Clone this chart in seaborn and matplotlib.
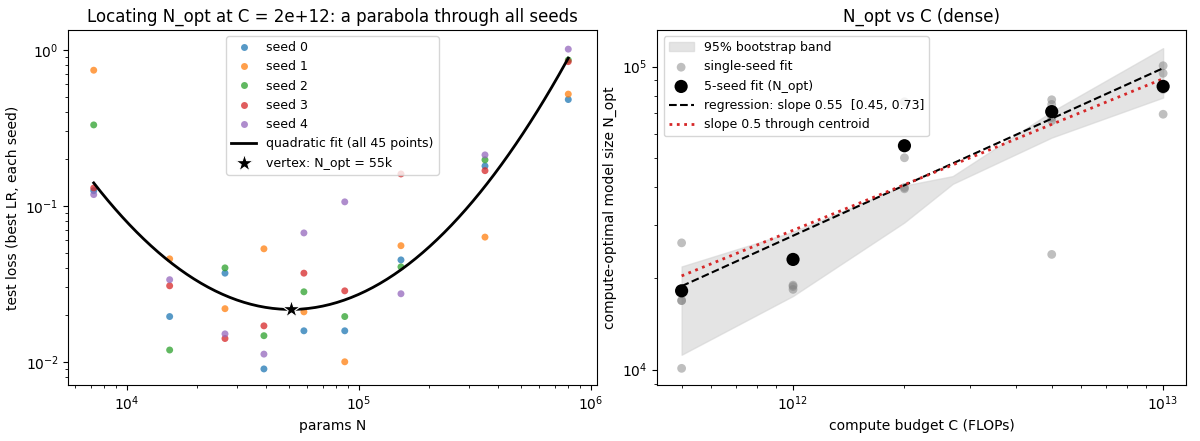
import numpy as np
import pandas as pd
import seaborn as sns
import matplotlib.pyplot as plt

plt.rcParams['font.family'] = ['DejaVu Sans']

# === Left panel data: loss per seed at C = 2e12 ===
params_n = [7.2e3, 15.3e3, 26.5e3, 39e3, 58e3, 87e3, 152e3, 350e3, 800e3]
loss_seed0 = [0.125, 0.0195, 0.037, 0.009, 0.0158, 0.0158, 0.045, 0.18, 0.48]
loss_seed1 = [0.74, 0.0457, 0.0219, 0.053, 0.0209, 0.010, 0.0555, 0.063, 0.52]
loss_seed2 = [0.33, 0.0119, 0.040, 0.0147, 0.0281, 0.0195, 0.0406, 0.197, 0.86]
loss_seed3 = [0.13, 0.0307, 0.0141, 0.017, 0.037, 0.0285, 0.160, 0.168, 0.84]
loss_seed4 = [0.118, 0.0336, 0.0151, 0.0112, 0.067, 0.106, 0.0273, 0.212, 1.01]

# === Right panel data ===
compute_c = [5e11, 1e12, 2e12, 5e12, 1e13]
n_opt_5seed = [18.2e3, 23.1e3, 54.8e3, 71e3, 86e3]
single_seed = [
    [26.2e3, 18.2e3, 16.9e3, 16.9e3, 10.1e3],
    [23.1e3, 19.0e3, 18.8e3, 18.4e3, 23.1e3],
    [76.5e3, 50e3, 39.9e3, 39.5e3, 54.8e3],
    [77.7e3, 75e3, 67.9e3, 66.3e3, 24e3],
    [100.6e3, 95e3, 84e3, 69.6e3, 85e3],
]
band_c = [5e11, 1e12, 2e12, 2.7e12, 5e12, 1e13]
band_lo = [11.2e3, 17.5e3, 30.6e3, 41e3, 58.3e3, 79e3]
band_hi = [21.9e3, 28.5e3, 40.5e3, 43.5e3, 71e3, 115e3]

seed_cols = sns.color_palette("tab10", 5)

fig, (ax1, ax2) = plt.subplots(1, 2, figsize=(12, 4.41), dpi=100)
fig.subplots_adjust(left=0.057, right=0.988, bottom=0.127, top=0.932, wspace=0.115)

# === Left: seeds + quadratic fit ===
rows = []
for s, vals in enumerate([loss_seed0, loss_seed1, loss_seed2, loss_seed3, loss_seed4]):
    for n, l in zip(params_n, vals):
        rows.append({"N": n, "loss": l, "seed": f"seed {s}"})
df = pd.DataFrame(rows)
sns.scatterplot(data=df, x="N", y="loss", hue="seed", palette=seed_cols,
                s=25, alpha=0.75, edgecolor="none", ax=ax1)

coef = np.polyfit(np.log10(df["N"]), np.log10(df["loss"]), 2)
xs = np.linspace(np.log10(params_n[0]), np.log10(params_n[-1]), 200)
ax1.plot(10 ** xs, 10 ** np.polyval(coef, xs), color="black", lw=2,
         label="quadratic fit (all 45 points)")
xv = -coef[1] / (2 * coef[0])
ax1.scatter([10 ** xv], [10 ** np.polyval(coef, xv)], marker="*", s=180,
            color="black", edgecolor="white", linewidth=0.8, zorder=5,
            label="vertex: N_opt = 55k")
ax1.set_xscale("log")
ax1.set_yscale("log")
ax1.set_xlim(5.6e3, 1.06e6)
ax1.set_ylim(0.0071, 1.34)
ax1.set_xlabel("params N")
ax1.set_ylabel("test loss (best LR, each seed)")
ax1.set_title("Locating N_opt at C = 2e+12: a parabola through all seeds", fontsize=12)
ax1.legend(loc="upper center", fontsize=9)

# === Right: N_opt vs C ===
ax2.fill_between(band_c, band_lo, band_hi, color="lightgray", alpha=0.6,
                 label="95% bootstrap band")
ss = pd.DataFrame([{"C": c, "N": n} for c, vals in zip(compute_c, single_seed) for n in vals])
sns.scatterplot(data=ss, x="C", y="N", color="gray", alpha=0.5, s=40,
                edgecolor="none", label="single-seed fit", ax=ax2)
sns.scatterplot(x=compute_c, y=n_opt_5seed, color="black", s=90,
                edgecolor="none", label="5-seed fit (N_opt)", ax=ax2, zorder=4)

lc = np.log10(compute_c)
ln = np.log10(n_opt_5seed)
reg = np.polyfit(lc, ln, 1)
ax2.plot(compute_c, 10 ** np.polyval(reg, lc), "k--", lw=1.5,
         label="regression: slope 0.55  [0.45, 0.73]")
ax2.plot(compute_c, 10 ** (ln.mean() + 0.5 * (lc - lc.mean())), color="tab:red",
         ls=":", lw=2, label="slope 0.5 through centroid")
ax2.set_xscale("log")
ax2.set_yscale("log")
ax2.set_xlim(4.3e11, 1.15e13)
ax2.set_ylim(8.9e3, 1.32e5)
ax2.set_xlabel("compute budget C (FLOPs)")
ax2.set_ylabel("compute-optimal model size N_opt")
ax2.set_title("N_opt vs C (dense)", fontsize=12)
ax2.legend(loc="upper left", fontsize=9)

plt.savefig("out.png", dpi=100)
